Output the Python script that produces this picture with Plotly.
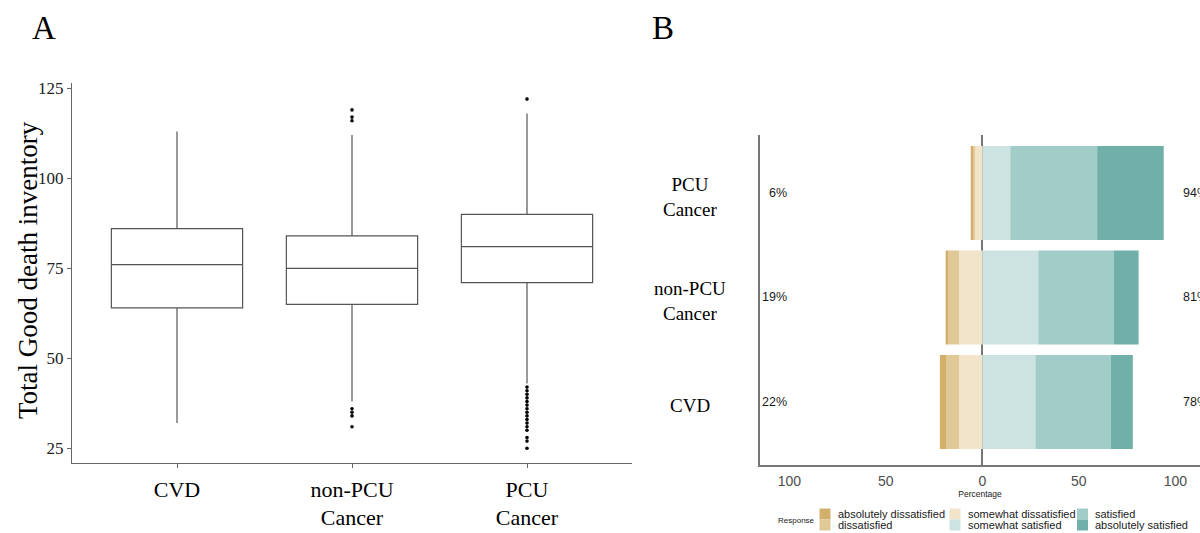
import plotly.graph_objects as go

# ---------------- Panel A data (box plot statistics) ----------------
groups_a = ["CVD", "non-PCU Cancer", "PCU Cancer"]
tick_text_a = ["CVD", "non-PCU<br>Cancer", "PCU<br>Cancer"]
q1 = [64, 65, 71]
median = [76, 75, 81]
q3 = [86, 84, 90]
lower_whisker = [32, 38, 43]
upper_whisker = [113, 112, 118]
outliers_cvd = []
outliers_nonpcu = [119, 117, 116, 36, 35, 34, 31]
outliers_pcu = [122, 42, 41, 40, 39, 38, 37, 36, 35, 34, 33, 32, 31, 30, 28, 27, 25]
y_ticks_a = [25, 50, 75, 100, 125]

# ---------------- Panel B data (likert percentages) ----------------
groups_b = ["CVD", "non-PCU Cancer", "PCU Cancer"]
label_b = ["CVD", "non-PCU<br>Cancer", "PCU<br>Cancer"]
responses = ["absolutely dissatisfied", "dissatisfied", "somewhat dissatisfied",
             "somewhat satisfied", "satisfied", "absolutely satisfied"]
abs_dissat = [3.5, 1.5, 1.0]
dissat = [6.5, 5.5, 1.0]
smw_dissat = [12.0, 12.0, 4.0]
smw_sat = [27.5, 29.0, 14.5]
sat = [39.0, 39.0, 45.0]
abs_sat = [11.5, 13.0, 34.5]
colors_b = ["#D2B06C", "#E0C897", "#F1E4CB", "#CDE3E2", "#A2CCC8", "#71B0A8"]
x_ticks_b = [-100, -50, 0, 50, 100]
x_tick_text_b = ["100", "50", "0", "50", "100"]

W, H = 1200, 533
def px(x):
    return x / W
def py(y):
    return 1 - y / H

SERIF = "Liberation Serif"
SANS = "Liberation Sans"

fig = go.Figure()

# ---- Panel A traces ----
fig.add_trace(go.Box(
    x=groups_a, q1=q1, median=median, q3=q3,
    lowerfence=lower_whisker, upperfence=upper_whisker,
    boxpoints=False, width=0.75, whiskerwidth=0,
    fillcolor="white", line=dict(color="#555555", width=1.2),
    xaxis="x", yaxis="y", showlegend=False, hoverinfo="skip"))

out_x, out_y = [], []
for g, vals in zip(groups_a, [outliers_cvd, outliers_nonpcu, outliers_pcu]):
    out_x += [g] * len(vals)
    out_y += vals
fig.add_trace(go.Scatter(
    x=out_x, y=out_y, mode="markers",
    marker=dict(color="black", size=3.6),
    xaxis="x", yaxis="y", showlegend=False, hoverinfo="skip"))

# ---- Panel B traces ----
neg_series = [(smw_dissat, 2), (dissat, 1), (abs_dissat, 0)]
pos_series = [(smw_sat, 3), (sat, 4), (abs_sat, 5)]
for vals, idx in neg_series:
    fig.add_trace(go.Bar(
        y=groups_b, x=[-v for v in vals], orientation="h", width=0.9,
        marker=dict(color=colors_b[idx], line=dict(width=0)),
        name=responses[idx], xaxis="x2", yaxis="y2", showlegend=False,
        hoverinfo="skip"))
for vals, idx in pos_series:
    fig.add_trace(go.Bar(
        y=groups_b, x=vals, orientation="h", width=0.9,
        marker=dict(color=colors_b[idx], line=dict(width=0)),
        name=responses[idx], xaxis="x2", yaxis="y2", showlegend=False,
        hoverinfo="skip"))

annotations = []
shapes = []

# percentage labels
for i, g in enumerate(groups_b):
    left = round(abs_dissat[i] + dissat[i] + smw_dissat[i])
    right = round(smw_sat[i] + sat[i] + abs_sat[i])
    annotations.append(dict(x=-100, y=g, xref="x2", yref="y2", text=f"{left}%",
                            showarrow=False, xanchor="right", yanchor="middle",
                            font=dict(family=SANS, size=12.5, color="#1a1a1a")))
    annotations.append(dict(x=103, y=g, xref="x2", yref="y2", text=f"{right}%",
                            showarrow=False, xanchor="left", yanchor="middle",
                            font=dict(family=SANS, size=12.5, color="#1a1a1a")))
    annotations.append(dict(x=px(690), y=g, xref="paper", yref="y2", text=label_b[i],
                            showarrow=False, xanchor="center", yanchor="middle",
                            align="center", yshift=-4,
                            font=dict(family=SERIF, size=19, color="black")))

# panel letters
annotations.append(dict(x=px(44), y=py(28), xref="paper", yref="paper", text="A",
                        showarrow=False, xanchor="center", yanchor="middle",
                        font=dict(family=SERIF, size=33, color="black")))
annotations.append(dict(x=px(663), y=py(28), xref="paper", yref="paper", text="B",
                        showarrow=False, xanchor="center", yanchor="middle",
                        font=dict(family=SERIF, size=33, color="black")))

# panel A y title
annotations.append(dict(x=px(28), y=py(270), xref="paper", yref="paper",
                        text="Total Good death inventory", textangle=-90,
                        showarrow=False, xanchor="center", yanchor="middle",
                        font=dict(family=SERIF, size=27, color="black")))

# panel B legend (column-major, 3 columns x 2 rows)
annotations.append(dict(x=px(796), y=py(520), xref="paper", yref="paper", text="Response",
                        showarrow=False, xanchor="center", yanchor="middle",
                        font=dict(family=SANS, size=8, color="#1a1a1a")))
col_swatch_x = [819.5, 949.5, 1077]
row_y = [508.5, 519.5]
for k, (resp, col) in enumerate(zip(responses, colors_b)):
    c = k // 2
    r = k % 2
    x0 = col_swatch_x[c]
    y0 = row_y[r]
    shapes.append(dict(type="rect", xref="paper", yref="paper",
                       x0=px(x0), x1=px(x0 + 11), y0=py(y0 + 11), y1=py(y0),
                       fillcolor=col, line=dict(width=0), layer="above"))
    annotations.append(dict(x=px(x0 + 16), y=py(y0 + 5.5), xref="paper", yref="paper",
                            text=resp, showarrow=False, xanchor="left", yanchor="middle",
                            font=dict(family=SANS, size=11, color="#1a1a1a")))

fig.update_layout(
    template="none",
    width=W, height=H,
    margin=dict(l=0, r=0, t=0, b=0, pad=0, autoexpand=False),
    paper_bgcolor="white", plot_bgcolor="white",
    barmode="relative",
    showlegend=False,
    xaxis=dict(domain=[px(72), px(632)], range=[-0.6, 2.6], type="category",
               categoryorder="array", categoryarray=groups_a,
               tickvals=groups_a, ticktext=tick_text_a, automargin=False,
               showline=True, linecolor="#666", linewidth=1,
               ticks="outside", ticklen=4, tickcolor="#666",
               tickfont=dict(family=SERIF, size=22, color="black"),
               ticklabelstandoff=2,
               showgrid=False, zeroline=False, anchor="y"),
    yaxis=dict(domain=[py(463.3), py(83.3)], range=[20.83, 126.39],
               tickvals=y_ticks_a, automargin=False,
               showline=True, linecolor="#666", linewidth=1,
               ticks="outside", ticklen=4, tickcolor="#666",
               tickfont=dict(family=SERIF, size=17, color="#222"),
               showgrid=False, zeroline=False, anchor="x"),
    xaxis2=dict(domain=[px(760), 1.0], range=[-115.2, 112.8],
                tickvals=x_ticks_b, ticktext=x_tick_text_b, automargin=False,
                showline=True, linecolor="#777", linewidth=1.5,
                ticks="", ticklabelstandoff=2,
                tickfont=dict(family=SANS, size=14, color="#4d4d4d"),
                title=dict(text="Percentage", font=dict(family=SANS, size=8.5, color="#1a1a1a"),
                           standoff=2),
                showgrid=False, zeroline=True, zerolinecolor="#777", zerolinewidth=1.5,
                anchor="y2"),
    yaxis2=dict(domain=[py(465), py(135)], range=[-0.603, 2.555], type="category",
                categoryorder="array", categoryarray=groups_b, automargin=False,
                showticklabels=False, ticks="",
                showline=True, linecolor="#777", linewidth=1.5,
                showgrid=False, zeroline=False, anchor="x2"),
    annotations=annotations,
    shapes=shapes,
)

fig.write_html("out.html",
               config={"displayModeBar": False},
               post_script="document.body.style.margin='0px';document.body.style.overflow='hidden';")
